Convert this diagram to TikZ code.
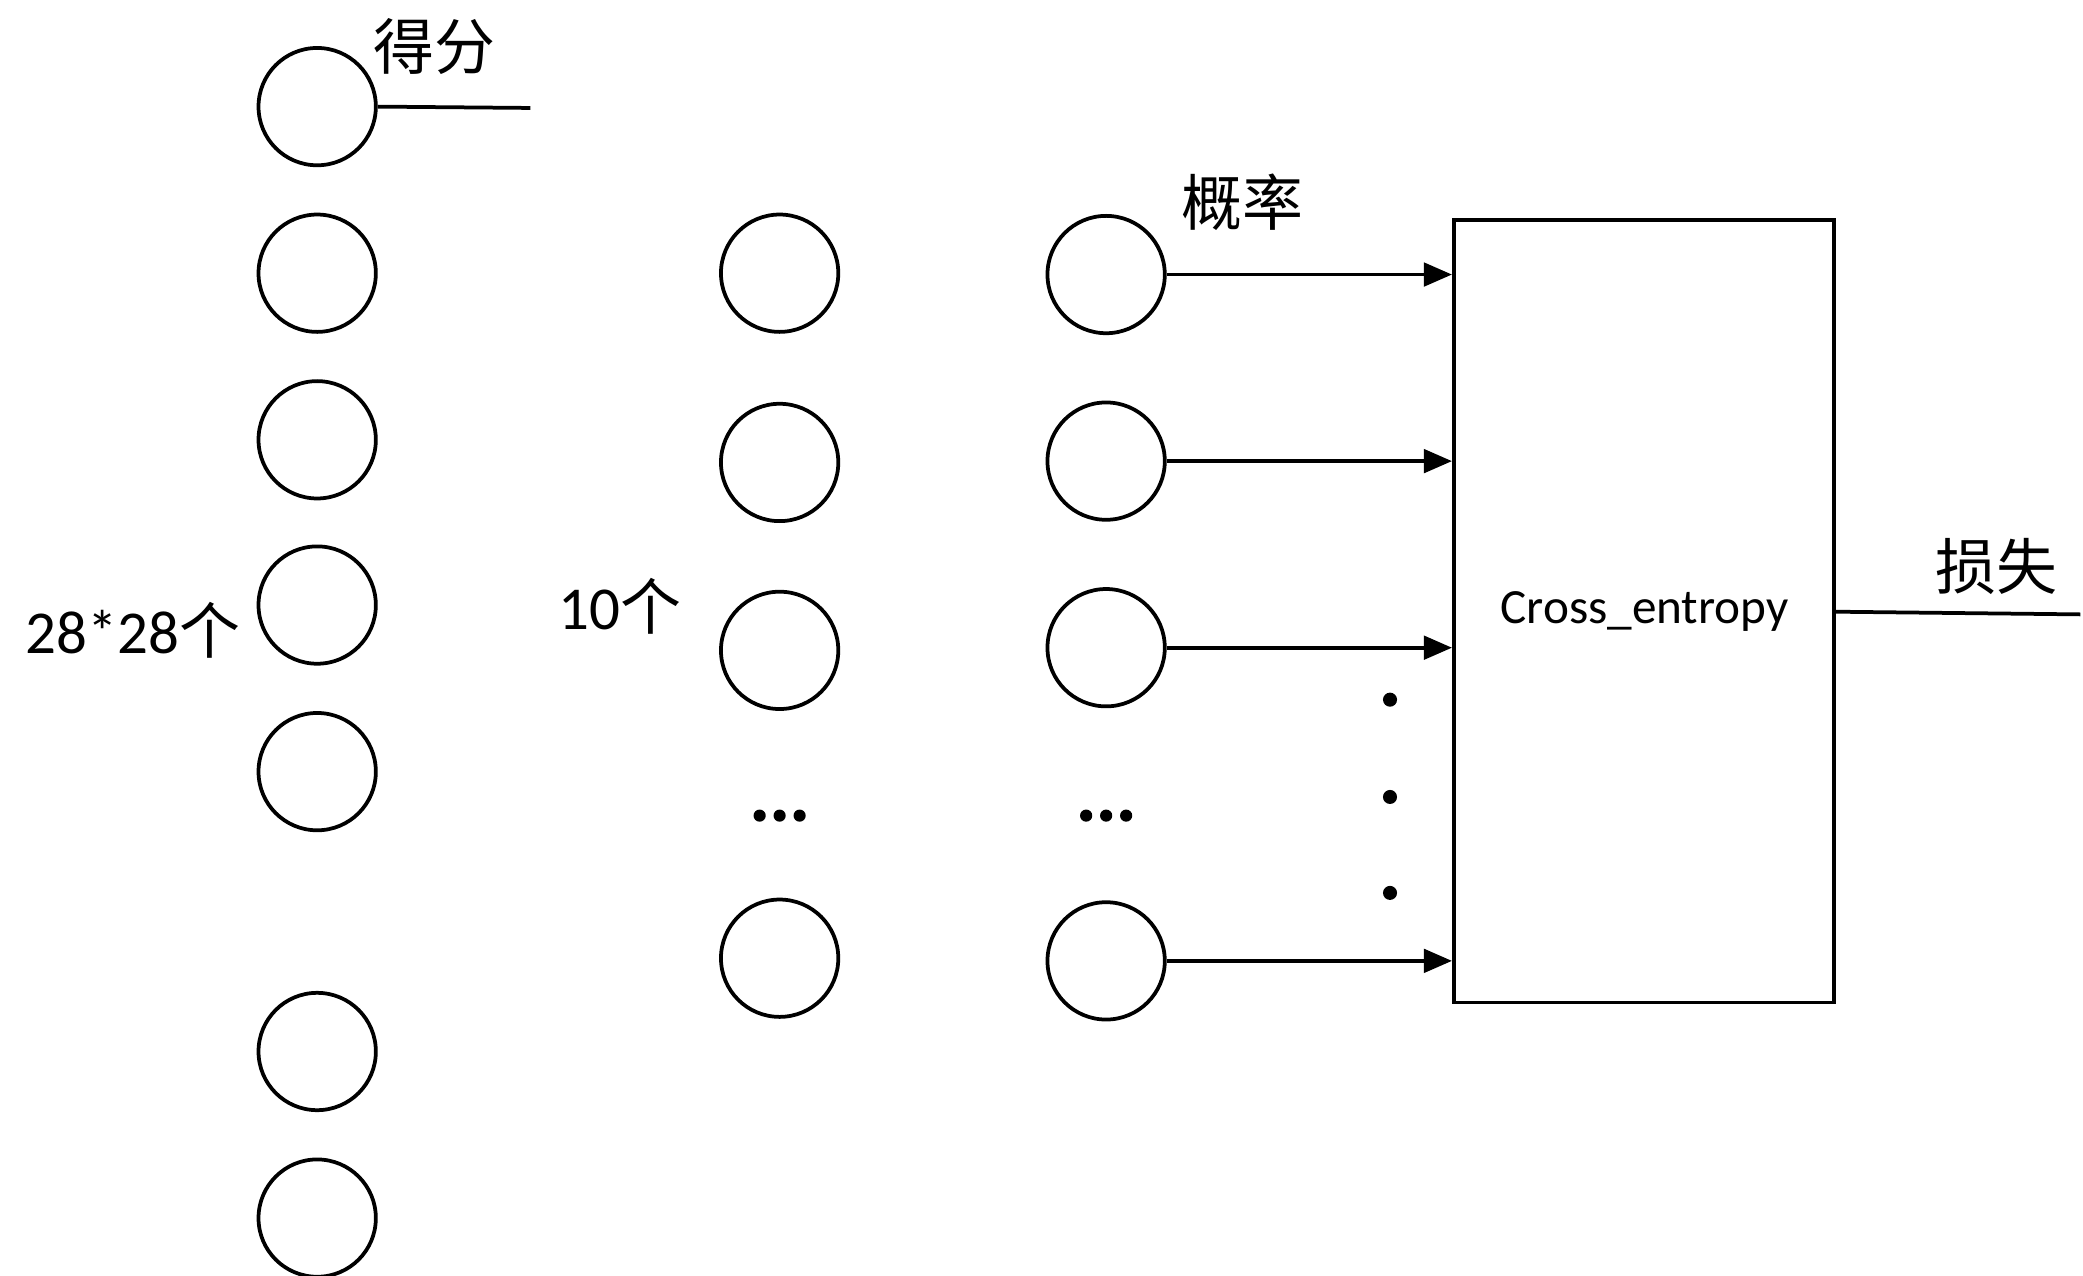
\documentclass[tikz,border=0pt]{standalone}
\usepackage{fontspec}
\setmainfont{Carlito}
\newfontfamily\cjk{Noto Sans CJK SC}
\usetikzlibrary{arrows.meta}
\tikzstyle{neuron} = [circle, draw, line width=0.8pt, minimum size=0.88cm, inner sep=0pt]
\tikzstyle{line} = [draw, line width=0.8pt, -{Triangle[length=6pt,width=5pt]}]
\tikzstyle{label} = [font=\fontsize{13}{15}\selectfont]
\begin{document}
\begin{tikzpicture}[x=0.01cm, y=-0.01cm]
    \useasboundingbox (0,0) rectangle (1563,957);
    % Place nodes
    \foreach \y [count=\i] in {80,205,330,454,579,789,914}
        \node [neuron] (in\i) at (238,\y) {};
    \foreach \y [count=\i] in {205,347,488,719}
        \node [neuron] (hid\i) at (585,\y) {};
    \foreach \y [count=\i] in {206,346,486,721}
        \node [neuron] (out\i) at (830,\y) {};
    \foreach \x in {570,585,600,815,830,845}
        \fill (\x,612) circle (1.3pt);
    \foreach \y in {525,598,670}
        \fill (1043,\y) circle (1.5pt);
    \node [draw, line width=0.8pt, minimum width=2.85cm, minimum height=5.87cm] (ce) at (1233.5,458.5) {};
    \node [font=\fontsize{10.5}{12}\selectfont] at (1234,459) {Cross\_entropy};
    \coordinate (score) at (398,81);
    \coordinate (lossend) at (1561,461);
    \node [label] at (100,473) {28*28{\cjk 个}};
    \node [label] at (465,455) {10{\cjk 个}};
    \node [label, font=\cjk\fontsize{13}{15}\selectfont] at (326,35) {得分};
    \node [label, font=\cjk\fontsize{13}{15}\selectfont] at (932,152) {概率};
    \node [label, font=\cjk\fontsize{13}{15}\selectfont] at (1498,425) {损失};
    % Draw edges
    \draw [line width=0.8pt] (in1.east) -- (score);
    \foreach \i in {1,...,4}
        \path [line] (out\i.east) -- (ce.west |- out\i.east);
    \draw [line width=0.8pt] (ce.east |- 0,459) -- (lossend);
\end{tikzpicture}
\end{document}
